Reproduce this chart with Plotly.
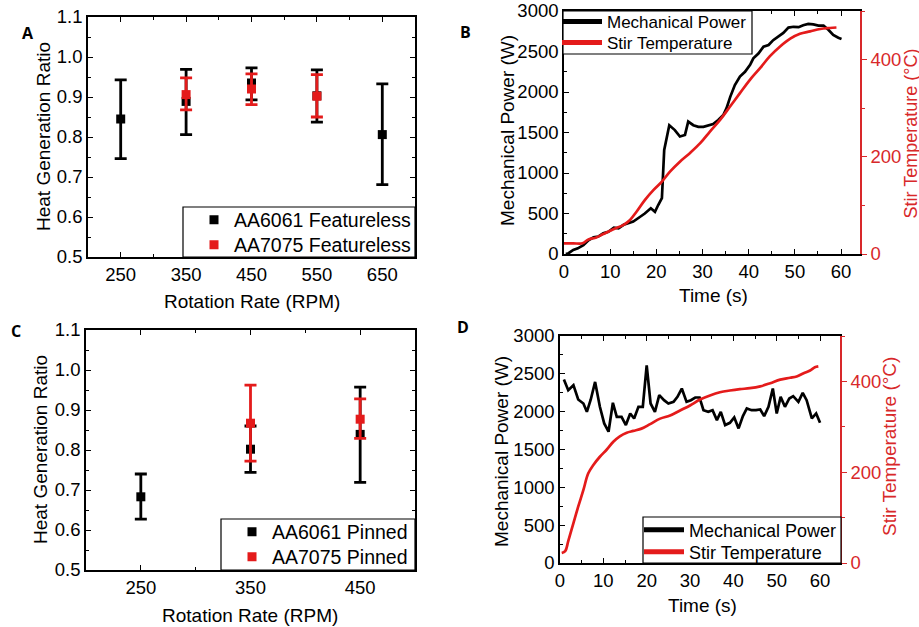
import plotly.graph_objects as go

# ---------------- data ----------------
# Panel A (Featureless)
A_rpm_6061 = [250, 350, 450, 550, 650]
A_ratio_6061 = [0.845, 0.889, 0.935, 0.903, 0.806]
A_hi_6061 = [0.943, 0.969, 0.973, 0.968, 0.933]
A_lo_6061 = [0.746, 0.806, 0.893, 0.837, 0.681]
A_rpm_7075 = [350, 450, 550]
A_ratio_7075 = [0.906, 0.920, 0.902]
A_hi_7075 = [0.948, 0.958, 0.956]
A_lo_7075 = [0.868, 0.881, 0.850]

# Panel C (Pinned)
C_rpm_6061 = [250, 350, 450]
C_ratio_6061 = [0.683, 0.802, 0.839]
C_hi_6061 = [0.740, 0.860, 0.957]
C_lo_6061 = [0.627, 0.744, 0.719]
C_rpm_7075 = [350, 450]
C_ratio_7075 = [0.867, 0.877]
C_hi_7075 = [0.962, 0.928]
C_lo_7075 = [0.772, 0.829]

# Panel B
B_power_t = [0.4, 1, 2, 3, 4.2, 5.3, 6.4, 7.4, 8.5, 9.6, 10.8, 11.8, 12.9, 13.9, 15, 16.5, 17.5,
             18.8, 19.7, 20.4, 21.2, 21.7, 22.8, 24, 25.1, 26.2, 26.9, 28, 29.1, 30.2, 31.3,
             32.3, 33.4, 34.5, 35.2, 36, 37, 38.1, 39.2, 40.3, 41, 42.1, 43.2, 44.3, 45.3,
             46.4, 47.5, 48.6, 49.7, 50.8, 51.8, 52.9, 54, 55.1, 56.2, 57.3, 58.3, 59.4, 60.1]
B_power = [0, 10, 50, 70, 110, 170, 205, 215, 255, 275, 325, 317, 360, 380, 400, 460, 500,
           565, 520, 605, 690, 1285, 1590, 1530, 1450, 1470, 1635, 1590, 1570, 1570, 1590,
           1605, 1655, 1715, 1800, 1940, 2085, 2190, 2250, 2335, 2415, 2475, 2560, 2580, 2640,
           2690, 2730, 2795, 2805, 2800, 2825, 2840, 2835, 2820, 2820, 2765, 2705, 2670, 2655]
B_temp_t = [0, 2, 4, 5.3, 7, 8.5, 10.7, 12.9, 14.3, 15.7, 17.5, 19.4, 21.2, 23, 25.1, 27.3,
            29.5, 31.6, 33.8, 36, 38.1, 40.3, 42.5, 44.6, 46.8, 49, 51.1, 53.3, 55.5, 57.6, 59]
B_temp = [22, 22, 22, 30, 34, 41, 51, 60, 70, 87, 111, 132, 149, 170, 190, 208,
          228, 252, 276, 304, 331, 359, 383, 407, 427, 443, 453, 458, 463, 465, 466]

# Panel D
D_power_t = [0.9, 1.9, 3.1, 4.2, 5.4, 6.2, 7.1, 8.1, 9.2, 10.2, 11.2, 12.2, 13.1, 14.2, 15.2,
             16.2, 17.1, 18.1, 19.1, 20, 20.9, 21.9, 22.9, 24, 25, 26.2, 27.1, 28.1, 29.2,
             30.2, 31.2, 32.2, 33.1, 34.2, 35.2, 36.2, 37.1, 38.1, 39.2, 40.2, 41.2, 42.2,
             43.1, 44.2, 45.2, 46.2, 47.1, 48.1, 49.1, 50, 50.9, 51.9, 52.9, 53.8, 55, 56,
             56.9, 58.1, 59.1, 60]
D_power = [2424, 2284, 2350, 2161, 2108, 1998, 2161, 2393, 2064, 1845, 1735, 2117, 1932, 1932,
           1823, 1976, 1910, 2064, 2064, 2613, 2108, 1998, 2218, 2152, 2108, 2130, 2196, 2306,
           2130, 2152, 2187, 2187, 2020, 1998, 2020, 1888, 1998, 1823, 1853, 1924, 1779, 1941,
           2042, 2020, 2020, 2029, 1941, 2064, 2306, 1976, 2196, 2064, 2174, 2205, 2130, 2249,
           2152, 1910, 1976, 1853]
D_temp_t = [0.4, 1.2, 1.9, 3.1, 4.2, 5.4, 6.5, 7.7, 9.2, 10.8, 12.3, 13.8, 15.4, 16.9, 18.8,
            20.8, 23.1, 25.4, 27.7, 30, 32.3, 34.6, 36.9, 39.2, 41.5, 43.8, 46.2, 48.5, 50.8,
            53.1, 54.6, 56.2, 57.7, 58.8, 59.6]
D_temp = [22, 26, 48, 88, 124, 161, 197, 216, 234, 250, 267, 279, 287, 291, 296,
          306, 318, 325, 336, 347, 360, 369, 376, 380, 383, 385, 389, 396, 404,
          408, 411, 418, 424, 431, 433]

# ---------------- style ----------------
W, H = 919, 627
FONT = "Liberation Sans, Arial, sans-serif"
RED = "#e41b1b"
AXRED = "#d8282a"
TICKF = 18.5
TITLEF = 19


def xd(a, b):
    return [a / W, b / W]


def yd(top, bottom):
    return [1 - bottom / H, 1 - top / H]


def errs(mean, hi, lo):
    return [h - m for h, m in zip(hi, mean)], [m - l for m, l in zip(mean, lo)]


fig = go.Figure()


def add_err(x, y, hi, lo, color, name, xa, ya, legend):
    up, dn = errs(y, hi, lo)
    fig.add_trace(go.Scatter(
        x=x, y=y, mode="markers", name=name,
        marker=dict(symbol="square", size=9, color=color),
        error_y=dict(type="data", symmetric=False, array=up, arrayminus=dn,
                     color=color, thickness=2.8, width=6),
        xaxis=xa, yaxis=ya, legend=legend))


add_err(A_rpm_6061, A_ratio_6061, A_hi_6061, A_lo_6061, "black", "AA6061 Featureless", "x", "y", "legend")
add_err(A_rpm_7075, A_ratio_7075, A_hi_7075, A_lo_7075, RED, "AA7075 Featureless", "x", "y", "legend2")
add_err(C_rpm_6061, C_ratio_6061, C_hi_6061, C_lo_6061, "black", "AA6061 Pinned", "x3", "y4", "legend5")
add_err(C_rpm_7075, C_ratio_7075, C_hi_7075, C_lo_7075, RED, "AA7075 Pinned", "x3", "y4", "legend6")


def add_lines(pt, p, tt, tv, xa, ya, ya2, leg_a, leg_b):
    fig.add_trace(go.Scatter(x=pt, y=p, mode="lines", line=dict(color="black", width=2.7),
                             showlegend=False, xaxis=xa, yaxis=ya))
    fig.add_trace(go.Scatter(x=tt, y=tv, mode="lines", line=dict(color=RED, width=2.7, shape="spline"),
                             showlegend=False, xaxis=xa, yaxis=ya2))
    fig.add_trace(go.Scatter(x=[None], y=[None], mode="lines", name="Mechanical Power",
                             line=dict(color="black", width=5), xaxis=xa, yaxis=ya, legend=leg_a))
    fig.add_trace(go.Scatter(x=[None], y=[None], mode="lines", name="Stir Temperature",
                             line=dict(color=RED, width=5), xaxis=xa, yaxis=ya, legend=leg_b))


add_lines(B_power_t, B_power, B_temp_t, B_temp, "x2", "y2", "y3", "legend3", "legend4")
add_lines(D_power_t, D_power, D_temp_t, D_temp, "x4", "y5", "y6", "legend7", "legend8")


def ax(dom, rng, dtick, tick0, minor_dtick, anchor, mirror=True, fmt=None, color="black",
       side=None, ticks="inside", overlaying=None):
    d = dict(domain=dom, range=rng, dtick=dtick, tick0=tick0, anchor=anchor, automargin=False,
             showgrid=False, zeroline=False, showline=True, linecolor=color, linewidth=1.6,
             mirror=mirror, ticks=ticks, ticklen=5, tickwidth=1.4, tickcolor=color,
             tickfont=dict(family=FONT, size=TICKF, color=color),
             minor=dict(dtick=minor_dtick, ticks=ticks, ticklen=3, tickwidth=1.2, tickcolor=color,
                        showgrid=False),
             fixedrange=True)
    if fmt:
        d["tickformat"] = fmt
    if side:
        d["side"] = side
    if overlaying:
        d["overlaying"] = overlaying
    return d


fig.update_layout(
    template="none",
    width=W, height=H, margin=dict(l=0, r=0, t=0, b=0, autoexpand=False),
    paper_bgcolor="white", plot_bgcolor="white",
    font=dict(family=FONT, size=TITLEF, color="black"),
    # Panel A
    xaxis=ax(xd(88, 415), [200, 700], 100, 250, 50, "y", mirror="ticks"),
    yaxis=ax(yd(17, 257), [0.5, 1.1], 0.1, 0.5, 0.05, "x", mirror="ticks", fmt=".1f"),
    # Panel B
    xaxis2=ax(xd(564, 860), [0, 64.1], 10, 0, 5, "y2", mirror="ticks"),
    yaxis2=ax(yd(11, 254), [0, 3000], 500, 0, 250, "x2", mirror=False),
    yaxis3=ax(yd(11, 254), [0, 500], 200, 0, 100, "x2", mirror=False, color=AXRED,
              side="right", ticks="outside", overlaying="y2"),
    # Panel C
    xaxis3=ax(xd(86, 415), [200, 500], 100, 250, 50, "y4", mirror="ticks"),
    yaxis4=ax(yd(330, 570), [0.5, 1.1], 0.1, 0.5, 0.05, "x3", mirror="ticks", fmt=".1f"),
    # Panel D
    xaxis4=ax(xd(560, 840), [0, 64.6], 10, 0, 5, "y5", mirror="ticks"),
    yaxis5=ax(yd(336, 563), [0, 3000], 500, 0, 250, "x4", mirror=False),
    yaxis6=ax(yd(336, 563), [0, 500], 200, 0, 100, "x4", mirror=False, color=AXRED,
              side="right", ticks="outside", overlaying="y5"),
)


def leg(x, y, size, itemwidth=30):
    return dict(x=x / W, y=1 - y / H, xanchor="left", yanchor="middle",
                bgcolor="rgba(0,0,0,0)", borderwidth=0, itemwidth=itemwidth,
                font=dict(family=FONT, size=size, color="black"),
                itemclick=False, itemdoubleclick=False)


fig.update_layout(
    legend=leg(194, 220, 19.5), legend2=leg(194, 245, 19.5),
    legend3=leg(557, 22, 17, 40), legend4=leg(557, 43, 17, 40),
    legend5=leg(232, 532, 19.5), legend6=leg(232, 557, 19.5),
    legend7=leg(639, 530, 18, 40), legend8=leg(639, 552, 18, 40),
)

# legend frames
for (x0, y0, x1, y1) in [(183, 207, 415, 257), (563, 11, 752, 54), (221, 519, 415, 570), (643, 517, 841, 563)]:
    fig.add_shape(type="rect", xref="paper", yref="paper", x0=x0 / W, x1=x1 / W,
                  y0=1 - y1 / H, y1=1 - y0 / H, line=dict(color="black", width=1.2),
                  fillcolor="white", layer="above")


def note(text, x, y, angle=0, color="black", size=TITLEF, bold=False, family=FONT):
    fig.add_annotation(text=("<b>%s</b>" % text) if bold else text,
                       x=x / W, y=1 - y / H, xref="paper", yref="paper",
                       xanchor="center", yanchor="middle", showarrow=False, textangle=angle,
                       borderpad=0, font=dict(family=family, size=size, color=color))


# axis titles
note("Rotation Rate (RPM)", 252, 301)
note("Heat Generation Ratio", 43, 137, angle=-90)
note("Time (s)", 713, 295)
note("Mechanical Power (W)", 508, 131, angle=-90)
note("Stir Temperature (°C)", 910.5, 134, angle=-90, color=AXRED, size=18)
note("Rotation Rate (RPM)", 250, 615)
note("Heat Generation Ratio", 40, 450, angle=-90)
note("Time (s)", 702, 605)
note("Mechanical Power (W)", 501, 451, angle=-90)
note("Stir Temperature (°C)", 890, 447, angle=-90, color=AXRED)

# panel letters
LET = "Open Sans, sans-serif"
note("A", 28, 33, size=16, bold=True, family=LET)
note("B", 465, 32, size=16, bold=True, family=LET)
note("C", 16, 331, size=16, bold=True, family=LET)
note("D", 463, 327, size=16, bold=True, family=LET)

fig.write_html("out.html")
